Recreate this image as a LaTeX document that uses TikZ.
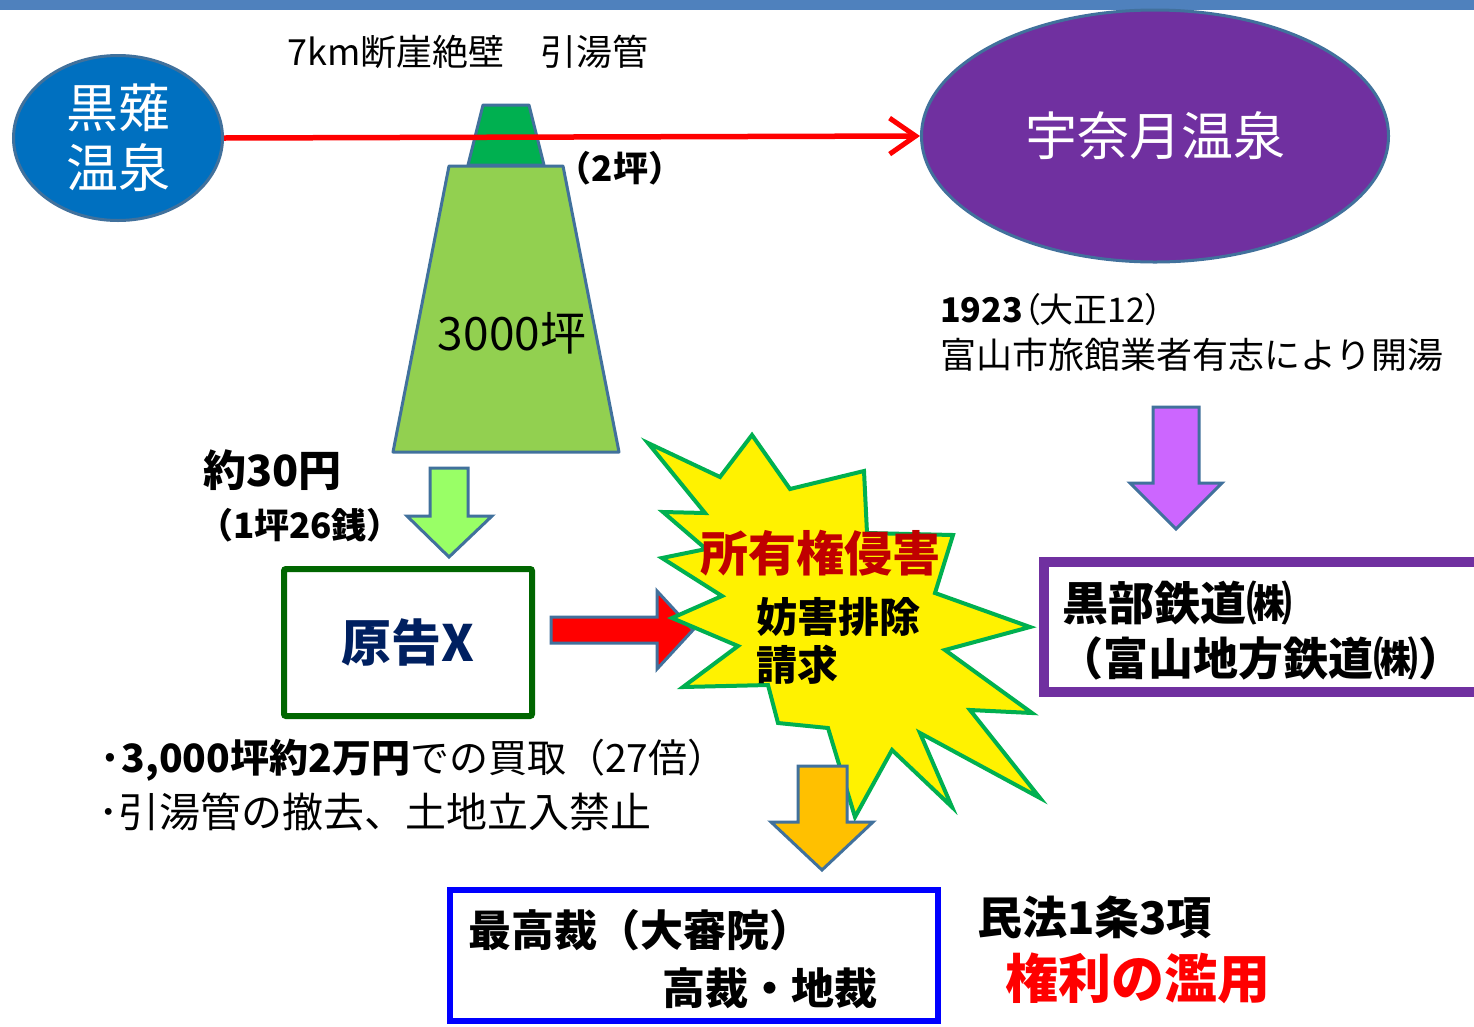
\documentclass[tikz,border=0pt]{standalone}
\usepackage{fontspec}
\setmainfont{Noto Sans CJK JP}
\newfontfamily\pjp{Noto Sans CJK JP}[RawFeature=+palt]
\usetikzlibrary{shapes.geometric,arrows.meta}
\definecolor{band}{HTML}{4F81BD}
\definecolor{edgeblue}{HTML}{41719C}
\definecolor{kuroblue}{HTML}{0070C0}
\definecolor{unapurple}{HTML}{7030A0}
\definecolor{darkgreen}{HTML}{00B050}
\definecolor{lightgreen}{HTML}{92D050}
\definecolor{arrowgreen}{HTML}{99FF66}
\definecolor{arroworange}{HTML}{FFC000}
\definecolor{arrowpurple}{HTML}{CC66FF}
\definecolor{boxgreen}{HTML}{006600}
\definecolor{navytext}{HTML}{002060}
\definecolor{darkred}{HTML}{C00000}
\definecolor{boxblue}{HTML}{0000FF}
\newcommand{\fsz}[2]{\fontsize{#1}{#2}\selectfont}
\begin{document}
\begin{tikzpicture}[x=1pt,y=-1pt,
  txt/.style={inner sep=0pt,outer sep=0pt,text=black},
  spring/.style={ellipse,draw=edgeblue,line width=3pt,inner sep=0pt,text=white},
  blockarrow/.style={draw=edgeblue,line width=3pt,line join=miter},
  landshape/.style={draw=edgeblue,line width=3pt,line join=round},
  pipe/.style={draw=red,line width=5.5pt,-{Straight Barb[length=26pt,width=36pt,line width=5pt]}}
]
\useasboundingbox (0,0) rectangle (1474,1026);
\fill[white] (0,0) rectangle (1474,1026);
% top band
\fill[band] (0,0) rectangle (1474,10);

% springs
\node[spring,fill=kuroblue,minimum width=209pt,minimum height=165pt,align=center,
  font=\fsz{52}{60}] (kuro) at (118,138) {黒薙\\温泉};
\node[spring,fill=unapurple,minimum width=467pt,minimum height=252pt,font=\fsz{52}{60}]
  (una) at (1155,136) {宇奈月温泉};

% land shapes
\draw[landshape,fill=darkgreen] (483,105) -- (529,105) -- (544,165) -- (468,165) -- cycle;
\draw[landshape,fill=lightgreen] (449,166) -- (563,166) -- (619,452) -- (393,452) -- cycle;

% pipe
\draw[pipe] (kuro.east) -- (una.west);

\node[txt] (cliff) at (468,52) {\fsz{36}{40}7km断崖絶壁　引湯管};
\node[txt] (tsubo2) at (620,168) {\fsz{35}{38}\bfseries（2坪）};
\node[txt] (tsubo3000) at (512,333) {\fsz{46}{50}3000坪};

\node[txt,anchor=west] (price) at (203,470) {\fsz{43}{46}\bfseries 約30円};
\node[txt,anchor=west] (pricenote) at (198,525) {\fsz{35}{38}\bfseries（1坪26銭）};

% green arrow
\draw[blockarrow,fill=arrowgreen] (430,468) -- (468,468) -- (468,516) -- (492,516) -- (449,557) -- (407,516) -- (430,516) -- cycle;

% plaintiff box
\node[draw=boxgreen,line width=6pt,minimum width=248pt,minimum height=147pt,rounded corners=2pt,
  inner sep=0pt,text=navytext,font=\fsz{50}{54}\bfseries] (plaintiff) at (408,642.5) {原告X};

% red arrow
\draw[blockarrow,fill=red] (551,617) -- (657,617) -- (657,591) -- (693,630) -- (657,669) -- (657,643) -- (551,643) -- cycle;

% starburst
\draw[draw=darkgreen,line width=4pt,line join=miter,fill=yellow]
  (648,443) -- (720,477) -- (752,435) -- (790,489) -- (864,471) -- (867,533)
  -- (953,535) -- (935,593) -- (1030,627) -- (945,650) -- (1032,713) -- (970,710)
  -- (1040,798) -- (920,733) -- (952,807) -- (892,750) -- (855,817) -- (828,728)
  -- (778,723) -- (768,685) -- (683,687) -- (738,646) -- (672,618) -- (722,596)
  -- (662,558) -- (706,549) -- (663,512) -- (705,513) -- cycle;

% orange arrow
\draw[blockarrow,fill=arroworange] (798,766) -- (847,766) -- (847,822) -- (873,822) -- (822,870) -- (771,822) -- (798,822) -- cycle;

\node[txt,text=darkred] (infringe) at (820,553) {\fsz{48}{52}\bfseries 所有権侵害};
\node[txt,anchor=west,align=left,font=\fsz{41}{48}\bfseries] (claim) at (756,641) {妨害排除\\請求};

% right side
\node[txt,anchor=west] (year) at (940,310) {\fsz{34}{38}\pjp\textbf{1923}（大正12）};
\node[txt,anchor=west] (opened) at (940,355) {\fsz{36}{40}富山市旅館業者有志により開湯};

\draw[blockarrow,fill=arrowpurple] (1153,407) -- (1199,407) -- (1199,483) -- (1222,483) -- (1176,529) -- (1130,483) -- (1153,483) -- cycle;

\draw[draw=unapurple,line width=10pt] (1044,562) rectangle (1495,692);
\node[txt,anchor=west] (kurobe) at (1062,603) {\fsz{46}{50}\bfseries 黒部鉄道㈱};
\node[txt,anchor=west] (toyama) at (1058,658) {\fsz{45}{50}\bfseries（富山地方鉄道㈱）};

% bottom-left notes
\node[txt,anchor=west] (buy) at (98,760) {\fsz{39}{44}\textbf{·3,000坪約2万円}での買取（27倍）};
\node[txt,anchor=west] (remove) at (98,812) {\fsz{41}{44}･引湯管の撤去、土地立入禁止};

% court box
\draw[draw=boxblue,line width=6pt] (450,890) rectangle (938,1021);
\node[txt,anchor=west] (supreme) at (468,930) {\fsz{43}{46}\bfseries 最高裁（大審院）};
\node[txt,anchor=west] (lower) at (662,988) {\fsz{43}{46}\bfseries 高裁・地裁};

\node[txt,anchor=west] (civil) at (977,917) {\fsz{45}{48}\bfseries 民法1条3項};
\node[txt,anchor=west,text=red] (abuse) at (1005,978) {\fsz{53}{56}\bfseries 権利の濫用};
\end{tikzpicture}
\end{document}
